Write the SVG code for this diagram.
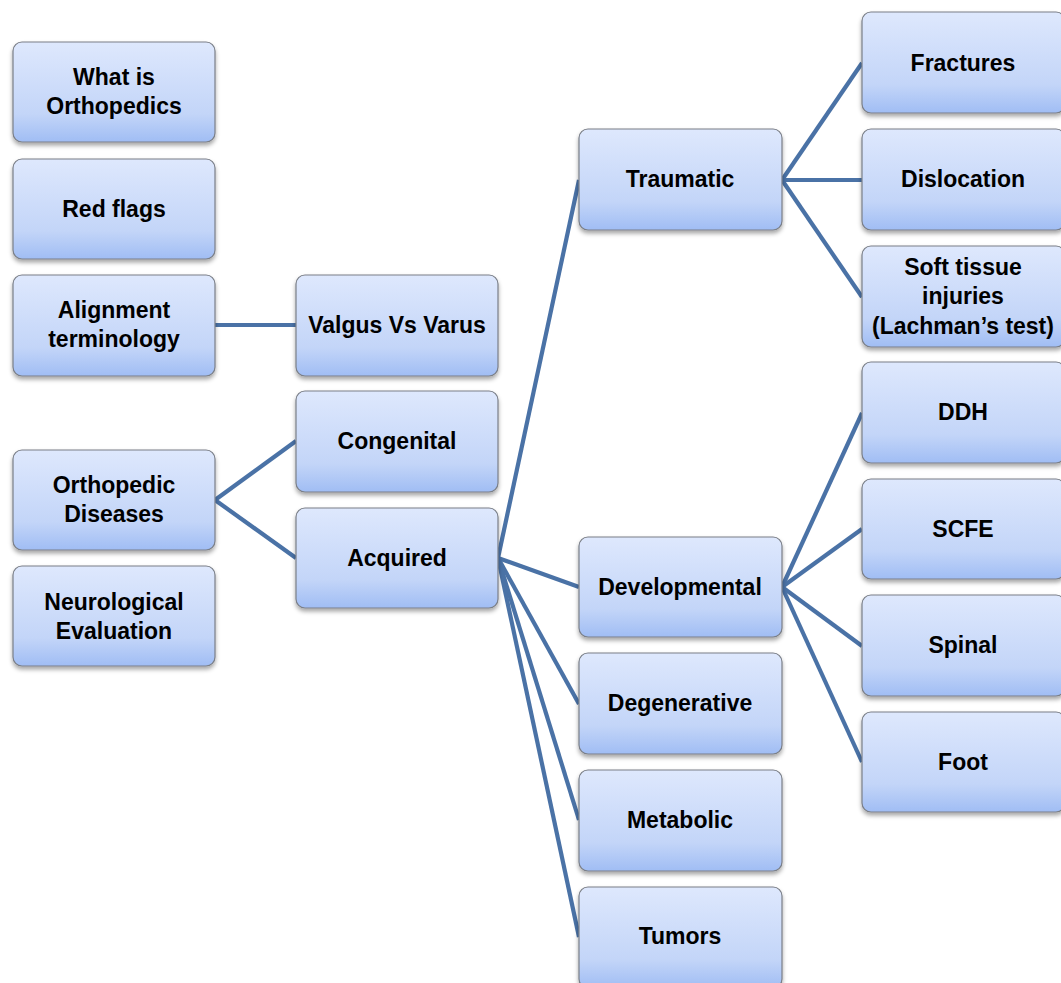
<svg xmlns="http://www.w3.org/2000/svg" width="1061" height="983" viewBox="0 0 1061 983">
<defs>
<linearGradient id="g" x1="0" y1="0" x2="0" y2="1">
<stop offset="0" stop-color="#dee8fd"/>
<stop offset="0.72" stop-color="#c3d5f8"/>
<stop offset="1" stop-color="#a0bdf4"/>
</linearGradient>
<filter id="sh" x="-10%" y="-10%" width="125%" height="130%">
<feDropShadow dx="0" dy="3" stdDeviation="2" flood-color="#000" flood-opacity="0.35"/>
</filter>
</defs>
<style>
.b{fill:url(#g);stroke:#7a7f88;stroke-width:1.2;filter:url(#sh)}
.t{font-family:"Liberation Sans",Arial,sans-serif;font-weight:bold;font-size:23px;fill:#000;text-anchor:middle}
.c{stroke:#4a72a6;stroke-width:4.2;fill:none;stroke-linecap:butt}
</style>
<rect width="1061" height="983" fill="#fff"/>
<g id="connectors">
<line class="c" x1="215" y1="325" x2="296" y2="325"/>
<line class="c" x1="215" y1="500" x2="296" y2="441"/>
<line class="c" x1="215" y1="500" x2="296" y2="558"/>
<line class="c" x1="498" y1="558" x2="579" y2="180"/>
<line class="c" x1="498" y1="558" x2="579" y2="587"/>
<line class="c" x1="498" y1="558" x2="579" y2="704"/>
<line class="c" x1="498" y1="558" x2="579" y2="820"/>
<line class="c" x1="498" y1="558" x2="579" y2="937"/>
<line class="c" x1="782" y1="180" x2="862" y2="63"/>
<line class="c" x1="782" y1="180" x2="862" y2="180"/>
<line class="c" x1="782" y1="180" x2="862" y2="297"/>
<line class="c" x1="782" y1="587" x2="862" y2="413"/>
<line class="c" x1="782" y1="587" x2="862" y2="529"/>
<line class="c" x1="782" y1="587" x2="862" y2="646"/>
<line class="c" x1="782" y1="587" x2="862" y2="762"/>
</g>
<g id="what-is-orthopedics"><rect class="b" x="13" y="42" width="202" height="100" rx="9"/><text class="t" x="114" y="85">What is</text><text class="t" x="114" y="114">Orthopedics</text></g>
<g id="red-flags"><rect class="b" x="13" y="159" width="202" height="100" rx="9"/><text class="t" x="114" y="217">Red flags</text></g>
<g id="alignment-terminology"><rect class="b" x="13" y="275" width="202" height="101" rx="9"/><text class="t" x="114" y="318">Alignment</text><text class="t" x="114" y="347">terminology</text></g>
<g id="orthopedic-diseases"><rect class="b" x="13" y="450" width="202" height="100" rx="9"/><text class="t" x="114" y="493">Orthopedic</text><text class="t" x="114" y="522">Diseases</text></g>
<g id="neurological-evaluation"><rect class="b" x="13" y="566" width="202" height="100" rx="9"/><text class="t" x="114" y="610">Neurological</text><text class="t" x="114" y="639">Evaluation</text></g>
<g id="valgus-vs-varus"><rect class="b" x="296" y="275" width="202" height="101" rx="9"/><text class="t" x="397" y="333">Valgus Vs Varus</text></g>
<g id="congenital"><rect class="b" x="296" y="391" width="202" height="101" rx="9"/><text class="t" x="397" y="449">Congenital</text></g>
<g id="acquired"><rect class="b" x="296" y="508" width="202" height="100" rx="9"/><text class="t" x="397" y="566">Acquired</text></g>
<g id="traumatic"><rect class="b" x="579" y="129" width="203" height="101" rx="9"/><text class="t" x="680" y="187">Traumatic</text></g>
<g id="developmental"><rect class="b" x="579" y="537" width="203" height="100" rx="9"/><text class="t" x="680" y="595">Developmental</text></g>
<g id="degenerative"><rect class="b" x="579" y="653" width="203" height="101" rx="9"/><text class="t" x="680" y="711">Degenerative</text></g>
<g id="metabolic"><rect class="b" x="579" y="770" width="203" height="101" rx="9"/><text class="t" x="680" y="828">Metabolic</text></g>
<g id="tumors"><rect class="b" x="579" y="887" width="203" height="101" rx="9"/><text class="t" x="680" y="944">Tumors</text></g>
<g id="fractures"><rect class="b" x="862" y="12" width="203" height="101" rx="9"/><text class="t" x="963" y="71">Fractures</text></g>
<g id="dislocation"><rect class="b" x="862" y="129" width="203" height="101" rx="9"/><text class="t" x="963" y="187">Dislocation</text></g>
<g id="soft-tissue"><rect class="b" x="862" y="246" width="203" height="101" rx="9"/><text class="t" x="963" y="275">Soft tissue</text><text class="t" x="963" y="304">injuries</text><text class="t" x="963" y="334">(Lachman’s test)</text></g>
<g id="ddh"><rect class="b" x="862" y="362" width="203" height="101" rx="9"/><text class="t" x="963" y="420">DDH</text></g>
<g id="scfe"><rect class="b" x="862" y="479" width="203" height="100" rx="9"/><text class="t" x="963" y="537">SCFE</text></g>
<g id="spinal"><rect class="b" x="862" y="595" width="203" height="101" rx="9"/><text class="t" x="963" y="653">Spinal</text></g>
<g id="foot"><rect class="b" x="862" y="712" width="203" height="100" rx="9"/><text class="t" x="963" y="770">Foot</text></g>
</svg>
